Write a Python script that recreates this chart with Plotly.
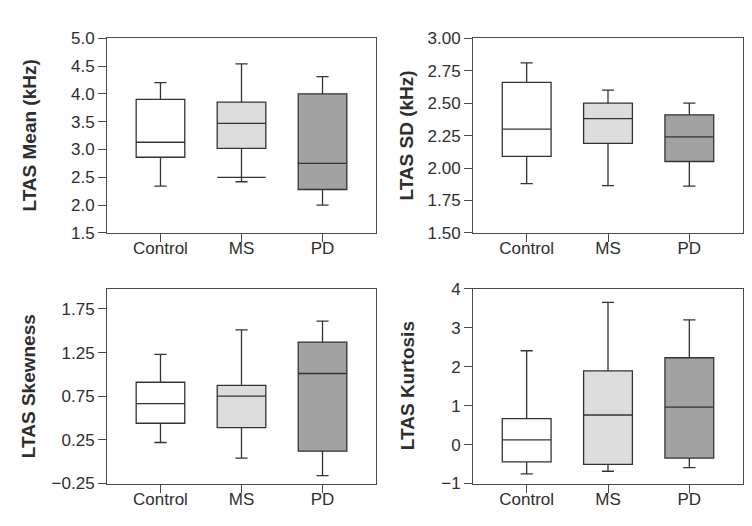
import plotly.graph_objects as go

# ---------------- data ----------------
groups = ["Control", "MS", "PD"]

# LTAS Mean (kHz)
mean_low = [2.34, 2.42, 2.00]
mean_q1 = [2.86, 3.02, 2.28]
mean_med = [3.13, 3.47, 2.75]
mean_q3 = [3.90, 3.85, 4.00]
mean_high = [4.20, 4.54, 4.31]
mean_ms_extra_cap = 2.50

# LTAS SD (kHz)
sd_low = [1.88, 1.865, 1.86]
sd_q1 = [2.09, 2.19, 2.05]
sd_med = [2.30, 2.38, 2.24]
sd_q3 = [2.66, 2.50, 2.41]
sd_high = [2.81, 2.60, 2.50]

# LTAS Skewness
skew_low = [0.22, 0.04, -0.16]
skew_q1 = [0.44, 0.39, 0.12]
skew_med = [0.665, 0.75, 1.01]
skew_q3 = [0.91, 0.875, 1.37]
skew_high = [1.23, 1.51, 1.61]

# LTAS Kurtosis
kurt_low = [-0.75, -0.685, -0.594]
kurt_q1 = [-0.445, -0.51, -0.346]
kurt_med = [0.12, 0.76, 0.96]
kurt_q3 = [0.665, 1.89, 2.23]
kurt_high = [2.41, 3.65, 3.20]

titles = ["LTAS Mean (kHz)", "LTAS SD (kHz)", "LTAS Skewness", "LTAS Kurtosis"]
mean_ticks = [1.5, 2.0, 2.5, 3.0, 3.5, 4.0, 4.5, 5.0]
sd_ticks = [1.50, 1.75, 2.00, 2.25, 2.50, 2.75, 3.00]
skew_ticks = [-0.25, 0.25, 0.75, 1.25, 1.75]
kurt_ticks = [-1, 0, 1, 2, 3, 4]

# ---------------- style ----------------
fills = ["#ffffff", "#dcdcdc", "#a2a2a2"]
line_col = "#333333"
axis_col = "#4a4a4a"
text_col = "#2e2e2e"
box_w = 0.6
font_family = "Liberation Sans, Arial, sans-serif"

panels = [
    dict(low=mean_low, q1=mean_q1, med=mean_med, q3=mean_q3, high=mean_high,
         ticks=mean_ticks, fmt=".1f", rng=[1.5, 5.0]),
    dict(low=sd_low, q1=sd_q1, med=sd_med, q3=sd_q3, high=sd_high,
         ticks=sd_ticks, fmt=".2f", rng=[1.5, 3.0]),
    dict(low=skew_low, q1=skew_q1, med=skew_med, q3=skew_q3, high=skew_high,
         ticks=skew_ticks, fmt=".2f", rng=[-0.25, 1.98]),
    dict(low=kurt_low, q1=kurt_q1, med=kurt_med, q3=kurt_q3, high=kurt_high,
         ticks=kurt_ticks, fmt="d", rng=[-1, 4]),
]

W, H = 752, 526
xdoms = [[99 / W, 368 / W], [465 / W, 735 / W]]
ydoms = [[(H - 224) / H, (H - 22) / H], [(H - 484) / H, (H - 282) / H]]
title_x = [22 / W, 399 / W, 20 / W, 399 / W]

fig = go.Figure()
layout = dict(
    width=W, height=H, margin=dict(l=0, r=0, t=0, b=0),
    paper_bgcolor="white", plot_bgcolor="white", showlegend=False,
    boxmode="overlay", font=dict(family=font_family, size=17, color=text_col),
)
annotations = []

for i, p in enumerate(panels):
    xa = "x" if i == 0 else f"x{i+1}"
    ya = "y" if i == 0 else f"y{i+1}"
    for j, g in enumerate(groups):
        fig.add_trace(go.Box(
            x=[j], q1=[p["q1"][j]], median=[p["med"][j]], q3=[p["q3"][j]],
            lowerfence=[p["low"][j]], upperfence=[p["high"][j]],
            width=box_w, whiskerwidth=0.25, fillcolor=fills[j],
            line=dict(color=line_col, width=1.3), name=g,
            xaxis=xa, yaxis=ya, hoverinfo="skip",
        ))
    if i == 0:
        # extra full-width cap drawn on the MS lower whisker
        ms = groups.index("MS")
        fig.add_trace(go.Scatter(
            x=[ms - box_w / 2, ms + box_w / 2],
            y=[mean_ms_extra_cap, mean_ms_extra_cap],
            mode="lines", line=dict(color=line_col, width=1.3),
            xaxis=xa, yaxis=ya, hoverinfo="skip",
        ))
    row, col = divmod(i, 2)
    xkey = "xaxis" if i == 0 else f"xaxis{i+1}"
    ykey = "yaxis" if i == 0 else f"yaxis{i+1}"
    layout[xkey] = dict(
        domain=xdoms[col], anchor=ya, range=[-0.66, 2.66],
        tickmode="array", tickvals=list(range(len(groups))), ticktext=groups,
        ticks="outside", ticklen=8, tickcolor=axis_col, tickwidth=1,
        ticklabelstandoff=-8,
        showline=True, linecolor=axis_col, linewidth=1, mirror=True,
        showgrid=False, zeroline=False, fixedrange=True,
        tickfont=dict(size=17, color=text_col),
    )
    layout[ykey] = dict(
        domain=ydoms[row], anchor=xa, range=p["rng"],
        tickmode="array", tickvals=p["ticks"], tickformat=p["fmt"],
        ticks="outside", ticklen=8, tickcolor=axis_col, tickwidth=1,
        showline=True, linecolor=axis_col, linewidth=1, mirror=True,
        showgrid=False, zeroline=False, fixedrange=True,
        tickfont=dict(size=17, color=text_col),
    )
    yc = (ydoms[row][0] + ydoms[row][1]) / 2
    annotations.append(dict(
        text=titles[i], xref="paper", yref="paper", x=title_x[i], y=yc,
        textangle=-90, showarrow=False, xanchor="center", yanchor="middle",
        font=dict(size=19, color=text_col, family=font_family, weight="bold"),
    ))

layout["annotations"] = annotations
fig.update_layout(**layout)
fig.write_html("out.html")
